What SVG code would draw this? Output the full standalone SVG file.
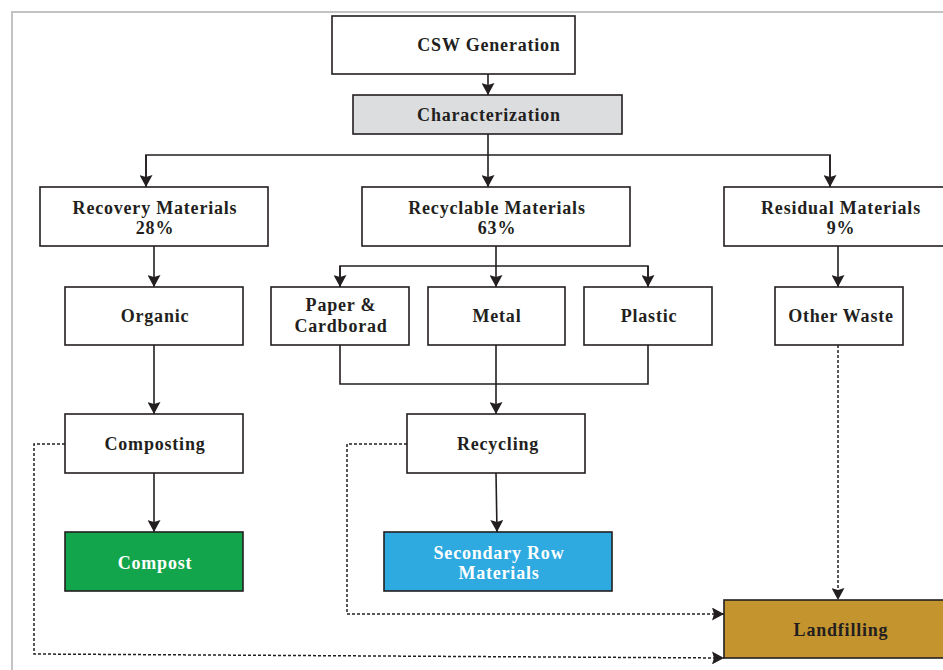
<svg xmlns="http://www.w3.org/2000/svg" width="943" height="670" viewBox="0 0 943 670">
<style>
.box{fill:#fff;stroke:#231f20;stroke-width:1.6}
.t{font-family:"Liberation Serif","Times New Roman",serif;font-weight:bold;font-size:18px;letter-spacing:0.8px;fill:#231f20;text-anchor:middle}
.w{fill:#fff}
.c{fill:none;stroke:#231f20;stroke-width:1.6}
.d{fill:none;stroke:#231f20;stroke-width:1.5;stroke-dasharray:3 2}
</style>
<defs>
<marker id="ah" viewBox="0 0 12 13" refX="12" refY="6.5" markerWidth="12" markerHeight="13" markerUnits="userSpaceOnUse" orient="auto">
<path d="M0,0 L12,6.5 L0,13 L2,6.5 z" fill="#231f20"/>
</marker>
</defs>
<rect width="943" height="670" fill="#fff"/>
<path d="M12,670 V12 H943" fill="none" stroke="#c3c3c3" stroke-width="2"/>
<g id="connectors">
<path class="c" d="M488,74 V95" marker-end="url(#ah)"/>
<path class="c" d="M488,134 V155"/>
<path class="c" d="M146,187 V155 H830 V187"/>
<path class="c" d="M146,155 V187" marker-end="url(#ah)"/>
<path class="c" d="M488,155 V187" marker-end="url(#ah)"/>
<path class="c" d="M830,155 V187" marker-end="url(#ah)"/>
<path class="c" d="M154,246 V287" marker-end="url(#ah)"/>
<path class="c" d="M496,246 V266"/>
<path class="c" d="M340,287 V266 H648 V287"/>
<path class="c" d="M340,266 V287" marker-end="url(#ah)"/>
<path class="c" d="M496,266 V287" marker-end="url(#ah)"/>
<path class="c" d="M648,266 V287" marker-end="url(#ah)"/>
<path class="c" d="M838,246 V287" marker-end="url(#ah)"/>
<path class="c" d="M154,345 V414" marker-end="url(#ah)"/>
<path class="c" d="M340,345 V384 H648 V345"/>
<path class="c" d="M496,345 V414" marker-end="url(#ah)"/>
<path class="c" d="M154,473 V532" marker-end="url(#ah)"/>
<path class="c" d="M496,473 L497,532" marker-end="url(#ah)"/>
<path class="d" d="M838,345 V600" marker-end="url(#ah)"/>
<path class="d" d="M407,444 H347 V614 H724" marker-end="url(#ah)"/>
<path class="d" d="M65,444 H34 V654 L724,658" marker-end="url(#ah)"/>
</g>
<g id="csw"><rect class="box" x="332" y="16" width="243" height="58"/><text class="t" x="489" y="51">CSW Generation</text></g>
<g id="characterization"><rect class="box" x="353" y="95" width="269" height="39" style="fill:#dcdddf"/><text class="t" x="489" y="121">Characterization</text></g>
<g id="recovery"><rect class="box" x="40" y="187" width="228" height="59"/><text class="t" x="155" y="214">Recovery Materials</text><text class="t" x="155" y="234">28%</text></g>
<g id="recyclable"><rect class="box" x="362" y="187" width="268" height="59"/><text class="t" x="497" y="214">Recyclable Materials</text><text class="t" x="497" y="234">63%</text></g>
<g id="residual"><rect class="box" x="724" y="187" width="225" height="59"/><text class="t" x="841" y="214">Residual Materials</text><text class="t" x="841" y="234">9%</text></g>
<g id="organic"><rect class="box" x="65" y="287" width="178" height="58"/><text class="t" x="155" y="322">Organic</text></g>
<g id="paper"><rect class="box" x="271" y="287" width="138" height="58"/><text class="t" x="341" y="311">Paper &amp;</text><text class="t" x="341" y="332">Cardborad</text></g>
<g id="metal"><rect class="box" x="428" y="287" width="137" height="58"/><text class="t" x="497" y="322">Metal</text></g>
<g id="plastic"><rect class="box" x="584" y="287" width="128" height="58"/><text class="t" x="649" y="322">Plastic</text></g>
<g id="otherwaste"><rect class="box" x="775" y="287" width="128" height="58"/><text class="t" x="841" y="322">Other Waste</text></g>
<g id="composting"><rect class="box" x="65" y="414" width="178" height="59"/><text class="t" x="155" y="450">Composting</text></g>
<g id="recycling"><rect class="box" x="407" y="414" width="178" height="59"/><text class="t" x="498" y="450">Recycling</text></g>
<g id="compost"><rect class="box" x="65" y="532" width="178" height="59" style="fill:#13a54b"/><text class="t w" x="155" y="569">Compost</text></g>
<g id="secondary"><rect class="box" x="384" y="532" width="228" height="59" style="fill:#2eaae1"/><text class="t w" x="499" y="559">Secondary Row</text><text class="t w" x="499" y="579">Materials</text></g>
<g id="landfilling"><rect class="box" x="724" y="600" width="225" height="58" style="fill:#c4942e"/><text class="t" x="841" y="636">Landfilling</text></g>
</svg>
